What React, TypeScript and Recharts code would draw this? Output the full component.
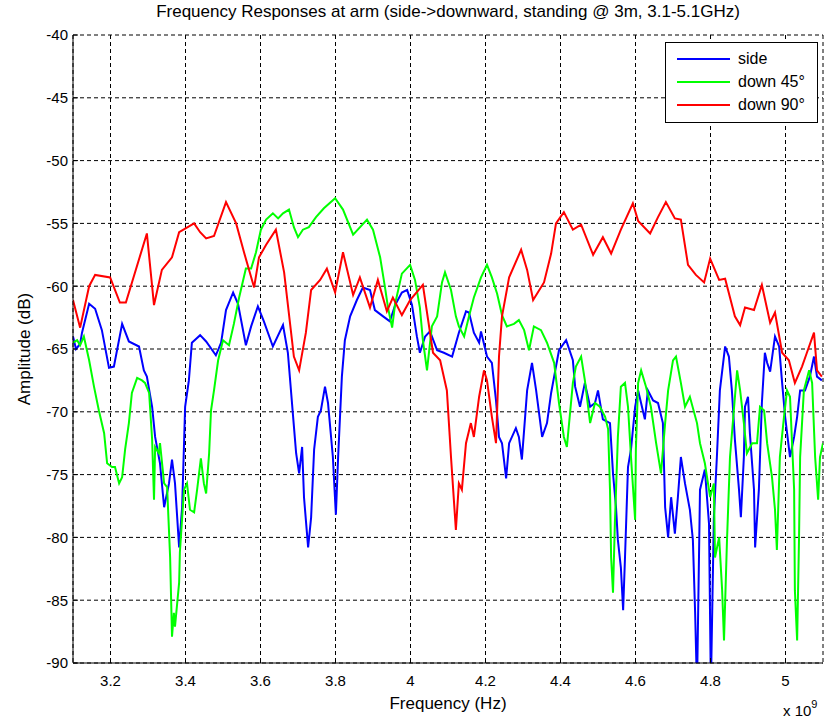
import React from 'react';
import { LineChart, Line, XAxis, YAxis, CartesianGrid, Legend } from 'recharts';

// Frequencies in GHz (axis shows x 10^9 Hz), amplitudes in dB
const sideFreq = [3.100, 3.108, 3.119, 3.124, 3.143, 3.159, 3.177, 3.196, 3.209, 3.231, 3.249, 3.276, 3.289, 3.297, 3.311, 3.319, 3.332, 3.343, 3.356, 3.364, 3.372, 3.383, 3.391, 3.399, 3.409, 3.417, 3.439, 3.455, 3.481, 3.495, 3.508, 3.527, 3.540, 3.561, 3.575, 3.593, 3.609, 3.633, 3.660, 3.673, 3.687, 3.695, 3.703, 3.711, 3.716, 3.727, 3.735, 3.743, 3.753, 3.761, 3.772, 3.780, 3.793, 3.801, 3.807, 3.817, 3.825, 3.839, 3.857, 3.873, 3.892, 3.905, 3.927, 3.945, 3.959, 3.977, 3.991, 4.004, 4.017, 4.025, 4.039, 4.052, 4.071, 4.089, 4.111, 4.129, 4.148, 4.156, 4.169, 4.183, 4.188, 4.204, 4.217, 4.228, 4.236, 4.244, 4.255, 4.263, 4.281, 4.289, 4.297, 4.311, 4.324, 4.335, 4.351, 4.364, 4.375, 4.383, 4.396, 4.415, 4.433, 4.439, 4.452, 4.465, 4.479, 4.492, 4.500, 4.513, 4.532, 4.540, 4.548, 4.553, 4.561, 4.567, 4.572, 4.580, 4.588, 4.599, 4.607, 4.625, 4.633, 4.647, 4.660, 4.673, 4.679, 4.687, 4.695, 4.705, 4.713, 4.721, 4.732, 4.745, 4.753, 4.759, 4.764, 4.772, 4.785, 4.796, 4.801, 4.809, 4.817, 4.825, 4.839, 4.849, 4.857, 4.865, 4.876, 4.881, 4.889, 4.892, 4.900, 4.905, 4.916, 4.919, 4.929, 4.937, 4.945, 4.951, 4.959, 4.972, 4.983, 4.991, 4.999, 5.012, 5.023, 5.031, 5.039, 5.052, 5.065, 5.076, 5.084, 5.097];
const sideAmp = [-64.0, -65.0, -64.6, -63.7, -61.4, -61.8, -63.5, -66.5, -66.4, -63.0, -64.4, -64.8, -66.7, -67.2, -69.6, -72.0, -74.1, -77.6, -75.7, -73.8, -75.7, -80.8, -77.6, -69.6, -67.5, -64.5, -63.9, -64.4, -65.5, -64.5, -61.9, -60.5, -61.4, -64.7, -63.2, -61.6, -62.8, -64.8, -63.1, -65.3, -70.4, -73.3, -74.9, -72.8, -76.8, -80.8, -78.4, -73.0, -70.4, -69.9, -68.0, -69.3, -73.6, -78.2, -73.6, -67.2, -64.3, -62.4, -61.1, -60.1, -60.3, -61.9, -62.4, -62.8, -61.5, -60.5, -60.3, -61.5, -64.0, -65.3, -64.0, -63.6, -65.1, -65.3, -65.6, -63.7, -62.0, -62.1, -63.7, -64.5, -63.6, -65.6, -66.1, -69.1, -72.0, -72.5, -75.3, -72.5, -71.3, -72.0, -73.8, -68.3, -66.1, -68.3, -72.0, -70.9, -68.5, -67.2, -65.1, -64.3, -65.9, -68.0, -69.6, -67.7, -69.6, -69.3, -68.3, -70.6, -70.9, -74.9, -77.6, -80.2, -82.4, -85.8, -81.6, -74.4, -73.0, -69.6, -68.3, -70.6, -68.3, -69.1, -69.3, -70.9, -77.6, -80.0, -76.8, -79.7, -76.8, -73.6, -75.7, -77.8, -80.2, -86.0, -92.0, -76.2, -74.6, -78.9, -92.0, -78.4, -73.6, -68.3, -64.8, -65.6, -68.3, -72.2, -76.2, -78.4, -73.6, -69.6, -68.8, -71.7, -76.2, -80.8, -76.2, -69.3, -65.3, -66.1, -66.8, -64.0, -64.8, -67.7, -70.4, -73.6, -72.0, -70.4, -68.3, -68.3, -67.2, -65.6, -67.2, -67.5];

const down45Freq = [3.100, 3.111, 3.119, 3.129, 3.143, 3.156, 3.169, 3.183, 3.191, 3.204, 3.212, 3.223, 3.231, 3.239, 3.249, 3.257, 3.271, 3.284, 3.292, 3.303, 3.311, 3.316, 3.319, 3.329, 3.332, 3.343, 3.351, 3.359, 3.364, 3.369, 3.372, 3.383, 3.385, 3.396, 3.404, 3.412, 3.423, 3.431, 3.441, 3.449, 3.455, 3.463, 3.468, 3.476, 3.487, 3.500, 3.516, 3.529, 3.543, 3.561, 3.575, 3.588, 3.601, 3.615, 3.633, 3.647, 3.660, 3.676, 3.689, 3.700, 3.713, 3.729, 3.748, 3.769, 3.799, 3.820, 3.847, 3.884, 3.900, 3.919, 3.932, 3.940, 3.951, 3.959, 3.977, 3.999, 4.012, 4.025, 4.033, 4.044, 4.057, 4.071, 4.084, 4.092, 4.108, 4.121, 4.129, 4.143, 4.156, 4.169, 4.188, 4.204, 4.217, 4.231, 4.244, 4.257, 4.276, 4.289, 4.303, 4.316, 4.329, 4.348, 4.364, 4.383, 4.396, 4.409, 4.417, 4.433, 4.441, 4.455, 4.465, 4.479, 4.492, 4.505, 4.519, 4.527, 4.532, 4.535, 4.540, 4.545, 4.553, 4.561, 4.572, 4.580, 4.588, 4.599, 4.601, 4.607, 4.615, 4.628, 4.641, 4.655, 4.668, 4.679, 4.687, 4.700, 4.708, 4.721, 4.732, 4.745, 4.764, 4.772, 4.785, 4.799, 4.809, 4.812, 4.823, 4.831, 4.836, 4.844, 4.852, 4.863, 4.871, 4.879, 4.889, 4.897, 4.911, 4.924, 4.932, 4.943, 4.951, 4.964, 4.972, 4.977, 4.985, 4.996, 5.004, 5.012, 5.023, 5.025, 5.031, 5.036, 5.039, 5.049, 5.063, 5.071, 5.079, 5.087, 5.092, 5.100];
const down45Amp = [-64.5, -64.3, -64.7, -64.0, -65.9, -68.0, -69.9, -71.7, -74.1, -74.4, -74.4, -75.7, -75.2, -73.0, -70.9, -68.5, -67.3, -67.5, -67.7, -68.5, -72.2, -77.0, -72.8, -73.3, -72.5, -75.7, -76.0, -81.6, -87.9, -86.0, -87.1, -83.6, -81.2, -76.2, -75.7, -77.8, -78.0, -76.2, -73.7, -75.7, -76.5, -73.3, -69.9, -68.3, -65.9, -64.3, -64.7, -63.0, -60.9, -58.6, -58.6, -57.3, -55.5, -54.7, -54.2, -54.6, -54.2, -53.9, -55.3, -56.1, -55.5, -55.3, -54.5, -53.8, -53.0, -53.9, -55.9, -54.7, -55.5, -57.7, -60.1, -61.7, -63.3, -61.4, -59.0, -58.3, -59.5, -61.7, -64.3, -66.7, -63.2, -62.4, -59.7, -58.9, -60.3, -62.4, -63.2, -64.0, -62.4, -60.9, -59.3, -58.3, -59.3, -60.6, -62.3, -63.2, -63.0, -62.7, -63.5, -65.1, -63.2, -63.5, -64.5, -66.1, -69.3, -72.0, -72.8, -67.7, -66.4, -65.6, -67.5, -70.9, -69.3, -69.6, -70.4, -71.4, -76.2, -81.6, -84.4, -78.9, -72.0, -68.0, -67.7, -69.6, -73.6, -78.6, -73.0, -67.7, -66.7, -68.0, -69.6, -72.5, -74.9, -70.9, -68.3, -65.9, -65.6, -67.7, -69.6, -68.8, -70.9, -72.5, -74.1, -76.8, -75.7, -81.6, -80.0, -84.2, -88.2, -80.2, -73.6, -69.6, -66.7, -68.3, -70.9, -73.3, -72.5, -72.5, -69.6, -69.9, -72.5, -75.2, -77.8, -81.0, -73.6, -70.4, -68.3, -68.8, -76.2, -84.2, -88.2, -80.2, -73.6, -68.3, -66.7, -67.7, -73.6, -77.0, -73.6, -72.5];

const down90Freq = [3.100, 3.119, 3.143, 3.159, 3.199, 3.225, 3.241, 3.297, 3.316, 3.337, 3.364, 3.383, 3.423, 3.439, 3.455, 3.476, 3.508, 3.535, 3.556, 3.583, 3.596, 3.615, 3.641, 3.663, 3.689, 3.703, 3.721, 3.735, 3.759, 3.777, 3.799, 3.820, 3.847, 3.865, 3.892, 3.913, 3.937, 3.953, 3.977, 3.999, 4.033, 4.060, 4.079, 4.097, 4.108, 4.121, 4.129, 4.137, 4.148, 4.161, 4.169, 4.183, 4.196, 4.204, 4.217, 4.228, 4.236, 4.244, 4.263, 4.295, 4.311, 4.327, 4.356, 4.375, 4.388, 4.409, 4.433, 4.455, 4.487, 4.513, 4.535, 4.561, 4.593, 4.607, 4.639, 4.660, 4.681, 4.705, 4.721, 4.740, 4.761, 4.783, 4.799, 4.823, 4.839, 4.865, 4.879, 4.892, 4.916, 4.937, 4.959, 4.972, 4.991, 5.009, 5.025, 5.044, 5.057, 5.076, 5.084, 5.097];
const down90Amp = [-61.1, -63.3, -60.0, -59.1, -59.3, -61.3, -61.3, -55.8, -61.5, -58.7, -57.7, -55.7, -55.0, -55.7, -56.2, -56.0, -53.3, -55.0, -57.3, -60.1, -57.7, -56.7, -55.5, -58.9, -65.6, -66.7, -63.7, -60.3, -59.5, -58.6, -60.5, -57.3, -60.7, -59.3, -61.7, -59.5, -62.0, -60.9, -62.3, -61.1, -59.9, -65.3, -65.9, -68.3, -73.6, -79.4, -75.7, -76.2, -72.5, -70.9, -72.0, -68.8, -66.7, -67.5, -70.4, -72.5, -65.6, -62.4, -59.3, -57.1, -58.7, -61.1, -59.7, -57.4, -55.0, -54.1, -55.5, -55.1, -57.5, -56.1, -57.4, -55.5, -53.4, -54.8, -55.8, -54.5, -53.3, -54.6, -54.7, -58.3, -59.1, -59.7, -57.8, -59.5, -59.4, -62.4, -63.1, -61.7, -61.9, -59.9, -62.9, -62.1, -65.3, -65.9, -67.7, -66.4, -65.3, -63.7, -66.7, -67.2];

const seriesNames = ['side', 'down 45°', 'down 90°'];
const seriesColors = ['#0000ff', '#00ff00', '#ff0000'];
const xTicks = [3.2, 3.4, 3.6, 3.8, 4.0, 4.2, 4.4, 4.6, 4.8, 5.0];
const yTicks = [-90, -85, -80, -75, -70, -65, -60, -55, -50, -45, -40];

const titleText = 'Frequency Responses at arm (side->downward, standing @ 3m, 3.1-5.1GHz)';
const xLabel = 'Frequency (Hz)';
const yLabel = 'Amplitude (dB)';

const toPoints = (f: number[], a: number[]) => f.map((x, i) => ({ f: x, v: a[i] }));

const sideData = toPoints(sideFreq, sideAmp);
const down45Data = toPoints(down45Freq, down45Amp);
const down90Data = toPoints(down90Freq, down90Amp);

const FONT = '"Liberation Sans", Arial, Helvetica, sans-serif';

const fmtX = (v: number) => String(Number(v.toFixed(1)));

const LegendBox = (props: any) => {
  const payload = props.payload || [];
  const ordered = seriesNames
    .map((n) => payload.find((p: any) => p.value === n))
    .filter(Boolean);
  return (
    <div
      style={{
        width: 153,
        height: 81,
        boxSizing: 'border-box',
        border: '1px solid #000',
        background: '#fff',
        fontFamily: FONT,
        fontSize: 16,
        paddingTop: 4,
      }}
    >
      {ordered.map((p: any, i: number) => (
        <div key={i} style={{ display: 'flex', alignItems: 'center', height: 23 }}>
          <div style={{ marginLeft: 11, width: 53, height: 0, borderTop: `2px solid ${p.color}` }} />
          <div style={{ marginLeft: 8, color: '#000', lineHeight: '23px' }}>{p.value}</div>
        </div>
      ))}
    </div>
  );
};

export default function App() {
  return (
    <div style={{ position: 'absolute', left: 0, top: 0, width: 832, height: 720, background: '#fff', fontFamily: FONT }}>
      <div
        style={{
          position: 'absolute',
          left: 73,
          width: 750,
          top: 3,
          textAlign: 'center',
          fontSize: 17,
          lineHeight: '18px',
          color: '#000',
          whiteSpace: 'nowrap',
        }}
      >
        {titleText}
      </div>
      <LineChart width={832} height={720} margin={{ top: 35, right: 9, bottom: 7, left: 0 }}>
        <CartesianGrid stroke="#000" strokeDasharray="4 3" strokeWidth={1} />
        <XAxis
          dataKey="f"
          type="number"
          domain={[3.1, 5.1]}
          allowDataOverflow
          ticks={xTicks}
          tickFormatter={fmtX}
          height={50}
          tickSize={-5}
          tickMargin={17}
          axisLine={{ stroke: '#000', strokeWidth: 1 }}
          tickLine={{ stroke: '#000' }}
          tick={{ fill: '#000', fontSize: 15, fontFamily: FONT }}
          label={{ value: xLabel, position: 'insideBottom', offset: 4, fill: '#000', fontSize: 17, fontFamily: FONT }}
        />
        <YAxis
          type="number"
          domain={[-90, -40]}
          allowDataOverflow
          ticks={yTicks}
          width={73}
          tickSize={-5}
          tickMargin={10}
          axisLine={{ stroke: '#000', strokeWidth: 1 }}
          tickLine={{ stroke: '#000' }}
          tick={{ fill: '#000', fontSize: 15, fontFamily: FONT }}
          label={{
            value: yLabel,
            angle: -90,
            position: 'insideLeft',
            offset: 24,
            fill: '#000',
            fontSize: 17,
            fontFamily: FONT,
            style: { textAnchor: 'middle' },
          }}
        />
        <Legend
          layout="horizontal"
          verticalAlign="middle"
          align="center"
          width={153}
          height={81}
          wrapperStyle={{ left: 665, top: 42, width: 153, height: 81 }}
          content={<LegendBox />}
        />
        <Line data={sideData} dataKey="v" name={seriesNames[0]} stroke={seriesColors[0]} strokeWidth={2} dot={false} isAnimationActive={false} type="linear" />
        <Line data={down45Data} dataKey="v" name={seriesNames[1]} stroke={seriesColors[1]} strokeWidth={2} dot={false} isAnimationActive={false} type="linear" />
        <Line data={down90Data} dataKey="v" name={seriesNames[2]} stroke={seriesColors[2]} strokeWidth={2} dot={false} isAnimationActive={false} type="linear" />
      </LineChart>
      <div
        style={{
          position: 'absolute',
          left: 783,
          top: 703,
          fontSize: 15,
          lineHeight: '16px',
          color: '#000',
          whiteSpace: 'nowrap',
        }}
      >
        x 10<span style={{ fontSize: 11, position: 'relative', top: -8 }}>9</span>
      </div>
    </div>
  );
}
